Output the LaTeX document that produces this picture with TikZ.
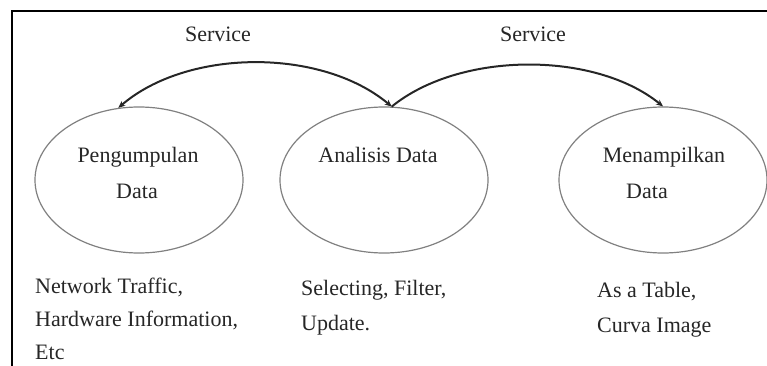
\documentclass[tikz,border=0pt]{standalone}
\usepackage{fontspec}
\setmainfont{Liberation Serif}
\usetikzlibrary{shapes.geometric}
\usetikzlibrary{arrows.meta}

\tikzset{
  proses/.style={draw=black!50, line width=1.2pt, ellipse, minimum width=208pt, minimum height=146pt, inner sep=0pt},
  teks/.style={font=\fontsize{22pt}{35pt}\selectfont, text=black!85, inner sep=0pt},
  layanan/.style={line width=2pt, draw=black!85},
}

\begin{document}
\begin{tikzpicture}[x=1pt,y=-1pt]
                \useasboundingbox (0,0) rectangle (767,366);
                \draw[line width=2pt] (12,366) -- (12,11) -- (767,11);

                \node[proses] (peng) at(139,180) {};
                \node[proses] (anal) at(384,180) {};
                \node[proses] (mena) at(663,180) {};

                \node[teks,anchor=base] (t1) at(138,163) {Pengumpulan};
                \node[teks,anchor=base] (t2) at(137,198) {Data};
                \node[teks,anchor=base] (t3) at(378,163) {Analisis Data};
                \node[teks,anchor=base] (t4) at(664,163) {Menampilkan};
                \node[teks,anchor=base] (t5) at(647,198) {Data};

                \node[teks,anchor=base] (s1) at(218,42) {Service};
                \node[teks,anchor=base] (s2) at(533,42) {Service};

                \draw[layanan,{Stealth[length=7pt,width=6pt]}-{Stealth[length=7pt,width=6pt]}]
                    (anal.84) .. controls (322,48) and (188,48) .. (peng.106);
                \draw[layanan,-{Stealth[length=7pt,width=6pt]}]
                    (anal.84) .. controls (460,51) and (595,51) .. (mena.north);

                % base = baseline of the last line
                \node[teks,anchor=base west,align=left,font=\fontsize{22pt}{33pt}\selectfont] (k1) at(35,359)
                    {Network Traffic,\\Hardware Information,\\Etc};
                \node[teks,anchor=base west,align=left] (k2) at(301,330)
                    {Selecting, Filter,\\Update.};
                \node[teks,anchor=base west,align=left] (k3) at(597,332)
                    {As a Table,\\Curva Image};
            \end{tikzpicture}
\end{document}
